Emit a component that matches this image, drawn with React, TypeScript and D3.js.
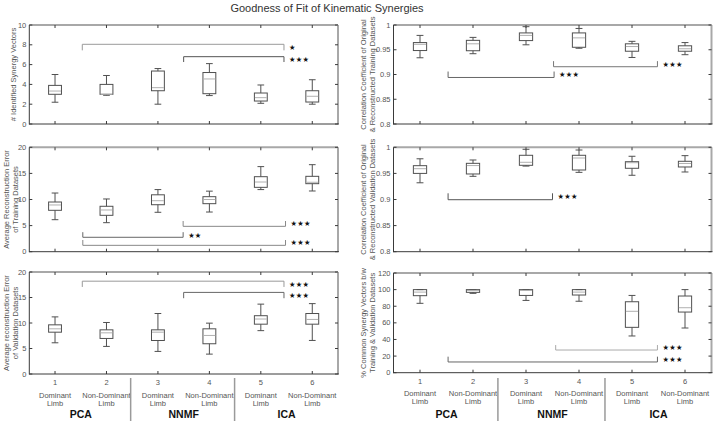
import React from "react";
import * as d3 from "d3";

// ---------- data ----------
const categories = [1, 2, 3, 4, 5, 6];
const limbLines = [["Dominant", "Limb"], ["Non-Dominant", "Limb"], ["Dominant", "Limb"], ["Non-Dominant", "Limb"], ["Dominant", "Limb"], ["Non-Dominant", "Limb"]];
const methods = ["PCA", "NNMF", "ICA"];

// each box: [low whisker, Q1, median, Q3, high whisker]
const synergyCount = [[2.2, 3.0, 3.33, 3.9, 5.0], [2.9, 3.0, 3.0, 4.0, 4.9], [2.0, 3.36, 3.67, 5.35, 5.6], [2.87, 3.06, 4.55, 5.2, 6.1], [2.09, 2.32, 2.66, 3.13, 3.94], [2.0, 2.22, 2.8, 3.36, 4.47]];
const trainError = [[6.13, 7.93, 8.95, 9.52, 11.24], [5.56, 6.97, 7.99, 8.7, 10.1], [7.55, 9.0, 9.77, 10.9, 11.9], [7.6, 9.2, 10.0, 10.54, 11.6], [11.9, 12.33, 13.35, 14.37, 16.3], [11.63, 13.03, 13.3, 14.44, 16.67]];
const valError = [[6.12, 8.2, 8.86, 9.64, 11.2], [5.41, 6.97, 8.07, 8.66, 10.1], [4.43, 6.57, 8.2, 8.66, 11.86], [3.9, 5.93, 7.56, 8.86, 9.97], [8.5, 9.77, 10.78, 11.43, 13.7], [6.58, 9.77, 10.7, 11.86, 13.8]];
const trainCorr = [[0.9338, 0.9484, 0.961, 0.9645, 0.979], [0.942, 0.948, 0.962, 0.969, 0.975], [0.96, 0.9685, 0.979, 0.984, 0.9966], [0.953, 0.955, 0.974, 0.984, 0.993], [0.9344, 0.947, 0.9565, 0.962, 0.967], [0.94, 0.947, 0.952, 0.958, 0.9645]];
const valCorr = [[0.932, 0.95, 0.959, 0.9648, 0.978], [0.9444, 0.9489, 0.965, 0.9693, 0.9757], [0.964, 0.9655, 0.9713, 0.9847, 0.9962], [0.952, 0.9565, 0.9795, 0.9847, 0.9948], [0.9464, 0.9598, 0.9705, 0.9724, 0.9828], [0.9527, 0.9623, 0.969, 0.9732, 0.984]];
const commonPct = [[83.5, 92.7, 97, 100, 100], [95.5, 96.7, 99, 100, 100], [87, 93, 99, 100, 100], [86, 93.5, 97, 100, 100], [44.2, 54.6, 73.9, 85.4, 93], [53.8, 73, 78.2, 92.3, 100]];

// significance brackets: [from, to, line value, tick-end value, label]
const bracketsL1 = [[1.53, 5.45, 8.05, 7.44, "★"], [3.5, 5.45, 6.8, 6.26, "★★★"]];
const bracketsL2 = [[3.49, 5.48, 4.86, 5.88, "★★★"], [1.54, 3.49, 2.76, 3.74, "★★"], [1.54, 5.48, 1.22, 2.24, "★★★"]];
const bracketsL3 = [[1.53, 5.45, 18.2, 17.07, "★★★"], [3.5, 5.45, 16.0, 14.86, "★★★"]];
const bracketsR1 = [[1.53, 3.53, 0.894, 0.906, "★★★"], [3.52, 5.48, 0.9157, 0.927, "★★★"]];
const bracketsR2 = [[1.53, 3.5, 0.8996, 0.9119, "★★★"]];
const bracketsR3 = [[3.56, 5.48, 27.3, 33.3, "★★★"], [1.53, 5.48, 12.9, 19.3, "★★★"]];

const ticksCount = [0, 2, 4, 6, 8, 10];
const ticksError = [0, 5, 10, 15, 20];
const ticksCorr = [0.8, 0.85, 0.9, 0.95, 1];
const ticksPct = [0, 20, 40, 60, 80, 100, 120];

// ---------- styling / layout ----------
const FONT = "'Liberation Sans', Arial, Helvetica, sans-serif";
const DARK = "#3a3a3a";
const BOX = "#505050";
const MED = "#b0b0b0";
const FRAME = "#a8a8a8";
const LABEL = "#555";

const bracketTones = {
  L1: ["#9a9a9a", "#555"],
  L2: ["#888", "#666", "#888"],
  L3: ["#999", "#666"],
  R1: ["#666", "#777"],
  R2: ["#555"],
  R3: ["#aaa", "#666"],
};

const LEFT = [29.3, 338];
const RIGHT = [393.5, 711.5];

const panels = [
  { key: "L1", data: synergyCount, domain: [0, 10], ticks: ticksCount, xr: LEFT, yr: [124, 25], label: ["# Identified Synergy Vectors"], brackets: bracketsL1, labelX: [13.5] },
  { key: "L2", data: trainError, domain: [0, 20], ticks: ticksError, xr: LEFT, yr: [251.7, 147.3], label: ["Average Reconstruction Error", "of Training Datasets"], brackets: bracketsL2, labelX: [6.5, 15.5] },
  { key: "L3", data: valError, domain: [0, 20], ticks: ticksError, xr: LEFT, yr: [374, 272], label: ["Average reconstruction Error", "of Validation Datasets"], brackets: bracketsL3, labelX: [6.5, 15.5], bottom: true },
  { key: "R1", data: trainCorr, domain: [0.8, 1], ticks: ticksCorr, xr: RIGHT, yr: [124, 25], label: ["Correlation Coefficient of Original", "& Reconstructed Training Datasets"], brackets: bracketsR1, labelX: [363.5, 372.5] },
  { key: "R2", data: valCorr, domain: [0.8, 1], ticks: ticksCorr, xr: RIGHT, yr: [251.7, 147.3], label: ["Correlation Coefficient of Original", "& Reconstructed Validation Datasets"], brackets: bracketsR2, labelX: [363.5, 372.5] },
  { key: "R3", data: commonPct, domain: [0, 120], ticks: ticksPct, xr: RIGHT, yr: [372.7, 273], label: ["% Common Synergy Vectors b/w", "Training & Validation Datasets"], brackets: bracketsR3, labelX: [363.5, 372.5], bottom: true },
];

const fmt = d3.format("~g");

function Panel({ p }: { p: any }) {
  const x = d3.scaleLinear().domain([0.5, 6.5]).range(p.xr);
  const y = d3.scaleLinear().domain(p.domain).range(p.yr);
  const [x0, x1] = p.xr;
  const [yb, yt] = p.yr;
  const bw = x(1.25) - x(1);
  const cw = x(1.13) - x(1);
  const tones = (bracketTones as any)[p.key];
  const ymid = (yb + yt) / 2;
  return (
    <g>
      {/* frame */}
      <line x1={x0} x2={x1} y1={yt} y2={yt} stroke={FRAME} strokeWidth={2} />
      <line x1={x1} x2={x1} y1={yt} y2={yb} stroke={FRAME} strokeWidth={2} />
      <line x1={x0} x2={x0} y1={yt} y2={yb + 0.5} stroke={DARK} strokeWidth={1} />
      <line x1={x0} x2={x1 + 1} y1={yb} y2={yb} stroke={DARK} strokeWidth={1} />
      {/* x ticks */}
      {categories.map((c) => (
        <g key={"xt" + c}>
          <line x1={x(c)} x2={x(c)} y1={yb} y2={yb - 3} stroke={DARK} />
          <line x1={x(c)} x2={x(c)} y1={yt} y2={yt + 3} stroke={DARK} />
        </g>
      ))}
      {/* y ticks */}
      {p.ticks.map((t: number) => (
        <g key={"yt" + t}>
          <line x1={x0} x2={x0 + 3} y1={y(t)} y2={y(t)} stroke={DARK} />
          <line x1={x1} x2={x1 - 3} y1={y(t)} y2={y(t)} stroke={DARK} />
          <text x={x0 - 3} y={y(t)} dy="0.35em" textAnchor="end" fontSize={7.5} fill={LABEL} fontFamily={FONT}>
            {fmt(t)}
          </text>
        </g>
      ))}
      {/* y label */}
      {p.label.map((s: string, i: number) => (
        <text key={"yl" + i} transform={`translate(${p.labelX[i]},${ymid}) rotate(-90)`} textAnchor="middle" dominantBaseline="central" fontSize={7.5} fill={LABEL} fontFamily={FONT}>
          {s}
        </text>
      ))}
      {/* boxes */}
      {p.data.map((b: number[], i: number) => {
        const cx = x(categories[i]);
        const [lo, q1, md, q3, hi] = b;
        return (
          <g key={"b" + i} fill="none">
            <line x1={cx} x2={cx} y1={y(q3)} y2={y(hi)} stroke={BOX} />
            <line x1={cx} x2={cx} y1={y(q1)} y2={y(lo)} stroke={BOX} />
            <line x1={cx - cw / 2} x2={cx + cw / 2} y1={y(hi)} y2={y(hi)} stroke={BOX} />
            <line x1={cx - cw / 2} x2={cx + cw / 2} y1={y(lo)} y2={y(lo)} stroke={BOX} />
            <rect x={cx - bw / 2} y={y(q3)} width={bw} height={Math.max(0.5, y(q1) - y(q3))} stroke={BOX} />
            <line x1={cx - bw / 2 + 0.5} x2={cx + bw / 2 - 0.5} y1={y(md)} y2={y(md)} stroke={MED} />
          </g>
        );
      })}
      {/* brackets */}
      {p.brackets.map((br: any[], i: number) => {
        const [f, t, v, te, lab] = br;
        const ya = y(v), yb2 = y(te);
        const col = tones[i];
        return (
          <g key={"br" + i}>
            <path d={`M${x(f)},${yb2}V${ya}H${x(t)}V${yb2}`} fill="none" stroke={col} strokeWidth={1} />
            <text x={x(t) + 5} y={(ya + yb2) / 2 + 2.8} fontSize={7.2} fill="#111" fontFamily="'DejaVu Sans', sans-serif" letterSpacing={0.3}>
              {lab}
            </text>
          </g>
        );
      })}
      {/* bottom labels */}
      {p.bottom && (
        <g fontFamily={FONT}>
          {categories.map((c, i) => (
            <g key={"bl" + c}>
              <text x={x(c)} y={yb + 11} textAnchor="middle" fontSize={7.5} fill={LABEL}>{c}</text>
              <text x={x(c)} y={yb + 23.5} textAnchor="middle" fontSize={7.5} fill={LABEL}>{limbLines[i][0]}</text>
              <text x={x(c)} y={yb + 31.5} textAnchor="middle" fontSize={7.5} fill={LABEL}>{limbLines[i][1]}</text>
            </g>
          ))}
          {methods.map((m, i) => (
            <text key={m} x={x(2 * i + 1.5)} y={418} textAnchor="middle" fontSize={10.5} fontWeight="bold" fill="#111">{m}</text>
          ))}
          {[2.47, 4.49].map((s) => (
            <line key={"sep" + s} x1={x(s)} x2={x(s)} y1={378} y2={421} stroke="#9a9a9a" strokeWidth={1.5} />
          ))}
        </g>
      )}
    </g>
  );
}

export default function App() {
  return (
    <div style={{ position: "absolute", left: 0, top: 0 }}>
      <svg width={713} height={431} style={{ display: "block", background: "#fff" }}>
        <rect width={713} height={431} fill="#fff" />
        <g opacity={0.995}>
          <text x={327} y={11.5} textAnchor="middle" fontSize={11} fill="#333" fontFamily={FONT}>
            Goodness of Fit of Kinematic Synergies
          </text>
          {panels.map((p) => (
            <Panel key={p.key} p={p} />
          ))}
        </g>
      </svg>
    </div>
  );
}
